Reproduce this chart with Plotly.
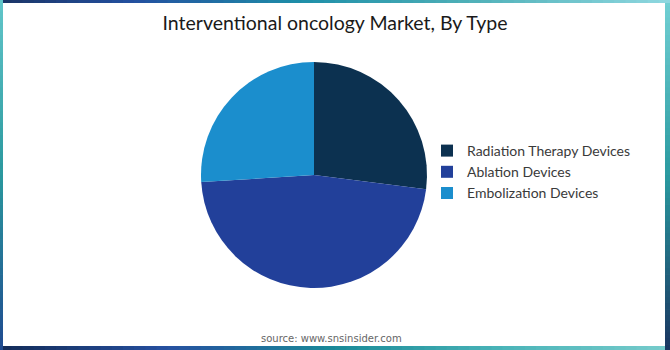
import plotly.graph_objects as go

labels = ["Radiation Therapy Devices", "Ablation Devices", "Embolization Devices"]
values = [27, 47, 26]
colors = ["#0C3150", "#22409A", "#1B8ECD"]

W, H = 670, 350

fig = go.Figure(go.Pie(
    labels=labels, values=values, sort=False, direction="clockwise", rotation=0,
    marker=dict(colors=colors, line=dict(width=0)),
    textinfo="none", hoverinfo="label+percent",
    domain=dict(x=[201 / W, 427 / W], y=[1 - 288 / H, 1 - 62 / H]),
))


def hex2rgb(h):
    h = h.lstrip("#")
    return tuple(int(h[i:i + 2], 16) for i in (0, 2, 4))


def interp(stops, t):
    for (t0, c0), (t1, c1) in zip(stops, stops[1:]):
        if t0 <= t <= t1:
            f = (t - t0) / (t1 - t0) if t1 > t0 else 0
            a, b = hex2rgb(c0), hex2rgb(c1)
            return "rgb(%d,%d,%d)" % tuple(round(a[i] + (b[i] - a[i]) * f) for i in range(3))
    return stops[-1][1]


shapes = []
N = 60
top_stops = [(0, "#1b3566"), (0.2, "#2350a0"), (0.45, "#1e8fa8"), (0.7, "#4fb0b8"), (1, "#8fd8e0")]
bot_stops = [(0, "#132c58"), (0.25, "#2650a0"), (0.5, "#1a8a98"), (0.75, "#4ab4b8"), (1, "#78cccc")]
left_stops = [(0, "#62c6ca"), (0.5, "#2a989e"), (1, "#1f4a90")]
right_stops = [(0, "#72d0d4"), (0.5, "#2a9aa0"), (1, "#1a3560")]

for i in range(N):
    t0, t1 = i / N, (i + 1) / N
    tm = (t0 + t1) / 2
    shapes.append(dict(type="rect", xref="paper", yref="paper", x0=t0, x1=t1 + 0.002,
                       y0=1 - 3 / H, y1=1, line_width=0, fillcolor=interp(top_stops, tm), layer="below"))
    shapes.append(dict(type="rect", xref="paper", yref="paper", x0=t0, x1=t1 + 0.002,
                       y0=0, y1=4 / H, line_width=0, fillcolor=interp(bot_stops, tm), layer="below"))
    shapes.append(dict(type="rect", xref="paper", yref="paper", x0=0, x1=3 / W,
                       y0=1 - t1 - 0.002, y1=1 - t0, line_width=0, fillcolor=interp(left_stops, tm), layer="below"))
    shapes.append(dict(type="rect", xref="paper", yref="paper", x0=1 - 5 / W, x1=1,
                       y0=1 - t1 - 0.002, y1=1 - t0, line_width=0, fillcolor=interp(right_stops, tm), layer="below"))

fig.update_layout(
    width=W, height=H,
    margin=dict(l=0, r=0, t=0, b=0),
    paper_bgcolor="white", plot_bgcolor="white",
    title=dict(text="Interventional oncology Market, By Type", x=0.5, xanchor="center",
               y=1 - 23 / H, yanchor="middle",
               font=dict(family="Lato", size=19.5, color="#1a1a1a")),
    showlegend=True,
    legend=dict(x=427 / W, xanchor="left", y=1 - 135 / H, yanchor="top",
                font=dict(family="Lato", size=14, color="#3a3a3a"),
                bgcolor="rgba(0,0,0,0)", borderwidth=0),
    shapes=shapes,
    annotations=[dict(text="source: www.snsinsider.com", x=331 / W, y=1 - 338 / H,
                      xref="paper", yref="paper", showarrow=False, xanchor="center", yanchor="middle",
                      font=dict(family="DejaVu Sans", size=10, color="#666666"))],
)

fig.write_html("out.html")
